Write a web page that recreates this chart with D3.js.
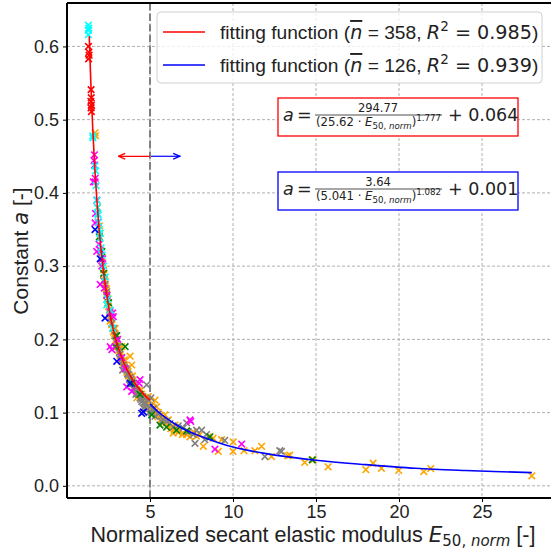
<!DOCTYPE html>
<html><head><meta charset="utf-8">
<script src="https://cdn.jsdelivr.net/npm/d3@7"></script>
<style>html,body{margin:0;padding:0;background:#fff;}svg{display:block;}</style>
</head><body>
<svg id="chart" width="551" height="552"></svg>
<script>
// ---------------- data ----------------
const xTicks = [5, 10, 15, 20, 25];
const yTicks = [0.0, 0.1, 0.2, 0.3, 0.4, 0.5, 0.6];
const threshold = 5;

// fitted curves
const redFitE = [1.34, 1.4, 1.45, 1.5, 1.55, 1.6, 1.7, 1.8, 1.9, 2.0, 2.25, 2.5, 2.75, 3.0, 3.5, 4.0, 4.5, 5.0];
const redFitA = [0.614, 0.573, 0.542, 0.514, 0.489, 0.466, 0.424, 0.390, 0.360, 0.334, 0.283, 0.246, 0.217, 0.195, 0.164, 0.143, 0.128, 0.117];
const blueFitE = [5, 5.5, 6, 6.5, 7, 8, 9, 10, 12, 15, 18, 21, 24, 28];
const blueFitA = [0.112, 0.101, 0.092, 0.0845, 0.078, 0.068, 0.060, 0.053, 0.044, 0.035, 0.029, 0.024, 0.021, 0.018];

// scatter groups: E values and a values
const orangeE = [1.69,1.72,2.1,2.2,2.3,2.25,2.35,2.4,2.45,2.5,2.55,2.6,2.7,2.8,2.85,2.95,3.0,3.1,3.2,3.3,3.4,3.5,3.6,3.8,3.7,3.85,4.0,4.1,4.2,4.3,4.5,4.6,4.8,5.1,5.3,5.4,5.5,5.7,5.9,6.0,6.1,6.3,6.4,6.6,6.8,7.0,7.2,7.41,7.6,8.0,8.21,8.51,8.8,9.11,9.31,10.01,10.0,10.66,11.32,11.72,12.32,13.3,13.42,14.32,14.83,15.73,18.0,18.44,18.94,19.98,21.49,21.91,28.0,3.9,3.3,2.9,4.7,5.2,6.5,7.8,2.15,2.65,3.15,3.45,3.95,4.4,4.9,5.6,
  2.28,2.38,2.48,2.58,2.68,2.78,2.88,2.98,3.08,3.18,3.28,3.38,3.48,3.58,3.68,3.78,3.88,3.98,4.08,4.18,4.28,4.38,4.48,4.58,4.68,4.78,4.88,4.98,5.08,5.18,5.28,5.38,5.48,5.65,5.85,6.05,6.25,6.45,6.7,6.95,1.85,1.95,2.0,2.05];
const orangeA = [0.482,0.478,0.31,0.295,0.28,0.29,0.27,0.262,0.25,0.245,0.24,0.225,0.22,0.21,0.205,0.2,0.19,0.185,0.178,0.17,0.168,0.16,0.155,0.177,0.15,0.145,0.14,0.135,0.12,0.128,0.125,0.118,0.113,0.11,0.117,0.108,0.1,0.092,0.097,0.086,0.09,0.081,0.072,0.08,0.076,0.072,0.07,0.067,0.074,0.07,0.054,0.067,0.065,0.047,0.063,0.060,0.047,0.048,0.048,0.054,0.040,0.041,0.042,0.032,0.0355,0.026,0.022,0.031,0.024,0.021,0.0195,0.0236,0.0137,0.165,0.19,0.215,0.105,0.1,0.083,0.068,0.305,0.232,0.19,0.172,0.15,0.13,0.122,0.096,
  0.275,0.268,0.255,0.236,0.228,0.215,0.208,0.198,0.19,0.183,0.175,0.17,0.165,0.16,0.156,0.15,0.146,0.144,0.139,0.132,0.13,0.126,0.121,0.119,0.117,0.12,0.112,0.108,0.102,0.107,0.101,0.097,0.094,0.09,0.087,0.082,0.078,0.076,0.073,0.07,0.38,0.355,0.345,0.32];

const grayE = [2.6,2.65,2.8,2.9,3.0,3.1,3.2,3.25,3.4,3.5,3.6,3.7,3.8,3.9,4.0,4.1,4.2,4.3,4.4,4.5,4.6,4.7,4.8,4.9,5.0,5.05,4.95,5.2,5.5,5.8,6.2,6.7,7.0,7.21,7.71,7.81,8.11,8.4,9.5,11.92,12.82,12.92,2.2,2.4,2.3,2.05,3.35,3.75,4.15,4.55,
  2.5,2.7,2.95,3.15,3.45,3.65,3.85,4.05,4.25,4.45,4.65,4.85,5.1,5.3,5.7,6.0,6.4,7.3,7.6,8.3];
const grayA = [0.235,0.23,0.215,0.205,0.195,0.19,0.18,0.172,0.165,0.16,0.158,0.152,0.148,0.142,0.14,0.132,0.13,0.125,0.12,0.115,0.106,0.112,0.138,0.117,0.108,0.12,0.1,0.105,0.098,0.09,0.085,0.082,0.079,0.086,0.058,0.076,0.076,0.07,0.062,0.040,0.048,0.047,0.28,0.265,0.275,0.31,0.158,0.138,0.125,0.122,
  0.25,0.222,0.205,0.182,0.162,0.153,0.145,0.135,0.127,0.118,0.114,0.105,0.1,0.095,0.088,0.088,0.08,0.074,0.07,0.063];

const greenE = [2.1,2.5,2.9,3.5,4.4,5.1,5.6,6.0,7.2,8.61,14.77,2.2,3.0,3.9,6.6,1.95,2.4];
const greenA = [0.32,0.25,0.19,0.19,0.125,0.097,0.083,0.08,0.075,0.067,0.0355,0.29,0.205,0.14,0.076,0.34,0.26];

const magentaE = [1.65,1.63,1.66,1.69,1.70,1.59,1.69,1.72,1.79,1.99,1.93,2.0,2.59,2.79,2.75,2.70,2.6,3.05,3.3,3.5,4.4,4.35,3.9,3.6,7.41,7.45,8.91,10.52,2.25,2.4,1.8,1.88,2.1,2.15];
const magentaA = [0.452,0.444,0.438,0.415,0.420,0.415,0.359,0.372,0.32,0.322,0.33,0.275,0.238,0.231,0.236,0.186,0.19,0.2,0.175,0.16,0.145,0.14,0.129,0.135,0.09,0.088,0.05,0.057,0.27,0.26,0.39,0.36,0.3,0.31];

const cyanE = [1.29,1.29,1.29,1.31,1.55,1.56,1.68,1.72,1.75,1.8,1.85,1.9,1.95,2.0,2.05,1.98,2.1,2.6,2.2,1.83,1.88,2.3,2.45,2.75,2.39];
const cyanA = [0.629,0.622,0.616,0.625,0.478,0.475,0.437,0.43,0.41,0.39,0.372,0.36,0.35,0.338,0.325,0.345,0.315,0.24,0.3,0.38,0.37,0.285,0.255,0.215,0.247];

const blueE = [1.69,2.29,3.0,4.5,4.6,2.0,3.8];
const blueA = [0.35,0.229,0.17,0.099,0.101,0.31,0.14];

const redE = [1.29,1.32,1.33,1.30,1.45,1.44,1.47,1.45,1.47,1.46];
const redA = [0.600,0.592,0.588,0.583,0.541,0.525,0.520,0.516,0.511,0.530];

const legendLabels = [
  {n: "358", r2: "0.985", color: "#ff0000"},
  {n: "126", r2: "0.939", color: "#0000ff"}
];

// ---------------- drawing ----------------
const svg = d3.select("#chart");
const L = 67, R = 553.4, T = 3, B = 498;
const x = d3.scaleLinear().domain([0, 29.3]).range([L, R]);
const y = d3.scaleLinear().domain([-0.0166, 0.6593]).range([B, T]);

const sans = "'Liberation Sans', Arial, sans-serif";
const math = "'DejaVu Sans', sans-serif";

// grid
const grid = svg.append("g");
grid.selectAll("line.gx").data(xTicks).join("line")
  .attr("x1", d => x(d)).attr("x2", d => x(d)).attr("y1", T).attr("y2", B)
  .attr("stroke", "#b0b0b0").attr("stroke-width", 1).attr("stroke-dasharray", "3,2");
grid.selectAll("line.gy").data(yTicks).join("line")
  .attr("x1", L).attr("x2", 551).attr("y1", d => y(d)).attr("y2", d => y(d))
  .attr("stroke", "#b0b0b0").attr("stroke-width", 1).attr("stroke-dasharray", "3,2");

// threshold line
svg.append("line").attr("x1", x(threshold)).attr("x2", x(threshold)).attr("y1", T).attr("y2", B)
  .attr("stroke", "#808080").attr("stroke-width", 2).attr("stroke-dasharray", "7.4,3.2");

// scatter
const xPath = "M-3.3,-3.3L3.3,3.3M-3.3,3.3L3.3,-3.3";
function scatter(E, A, color) {
  svg.append("g").selectAll("path").data(E.map((e, i) => [e, A[i]])).join("path")
    .attr("transform", d => `translate(${x(d[0])},${y(d[1])})`)
    .attr("d", xPath).attr("stroke", color).attr("stroke-width", 1.6).attr("fill", "none");
}
scatter(orangeE, orangeA, "#ffa500");
scatter(grayE, grayA, "#808080");
scatter(greenE, greenA, "#008000");
scatter(magentaE, magentaA, "#ff00ff");
scatter(cyanE, cyanA, "#00ffff");
scatter(blueE, blueA, "#0000ff");
scatter(redE, redA, "#ff0000");

// fit lines
const line = d3.line().x(d => x(d[0])).y(d => y(d[1])).curve(d3.curveCatmullRom);
svg.append("path").datum(redFitE.map((e, i) => [e, redFitA[i]])).attr("d", line)
  .attr("fill", "none").attr("stroke", "#ff0000").attr("stroke-width", 1.6);
svg.append("path").datum(blueFitE.map((e, i) => [e, blueFitA[i]])).attr("d", line)
  .attr("fill", "none").attr("stroke", "#0000ff").attr("stroke-width", 1.6);

// arrows
const defs = svg.append("defs");
[["arrRed", "#ff0000"], ["arrBlue", "#0000ff"]].forEach(([id, c]) => {
  defs.append("marker").attr("id", id).attr("viewBox", "0 0 10 10").attr("refX", 9).attr("refY", 5)
    .attr("markerWidth", 7).attr("markerHeight", 7).attr("orient", "auto")
    .append("path").attr("d", "M1,1.5L9,5L1,8.5").attr("fill", "none").attr("stroke", c).attr("stroke-width", 1.6);
});
const arrowY = y(0.450);
svg.append("line").attr("x1", x(threshold)).attr("x2", x(3.1)).attr("y1", arrowY).attr("y2", arrowY)
  .attr("stroke", "#ff0000").attr("stroke-width", 1.2).attr("marker-end", "url(#arrRed)");
svg.append("line").attr("x1", x(threshold) + 1).attr("x2", x(6.8)).attr("y1", arrowY).attr("y2", arrowY)
  .attr("stroke", "#0000ff").attr("stroke-width", 1.2).attr("marker-end", "url(#arrBlue)");

// spines
svg.append("line").attr("x1", L).attr("x2", L).attr("y1", T).attr("y2", B).attr("stroke", "#000").attr("stroke-width", 2);
svg.append("line").attr("x1", L).attr("x2", 551).attr("y1", B).attr("y2", B).attr("stroke", "#000").attr("stroke-width", 2);
svg.append("line").attr("x1", L).attr("x2", 551).attr("y1", T).attr("y2", T).attr("stroke", "#000").attr("stroke-width", 2);

// axes ticks + labels
const xAxis = svg.append("g").attr("transform", `translate(0,${B})`)
  .call(d3.axisBottom(x).tickValues(xTicks).tickSize(4).tickPadding(3).tickFormat(d3.format("d")));
xAxis.select(".domain").remove();
xAxis.selectAll("text").attr("font-family", sans).attr("font-size", 18).attr("fill", "#222");
const yAxis = svg.append("g").attr("transform", `translate(${L},0)`)
  .call(d3.axisLeft(y).tickValues(yTicks).tickSize(4).tickPadding(4).tickFormat(d3.format(".1f")));
yAxis.select(".domain").remove();
yAxis.selectAll("text").attr("font-family", sans).attr("font-size", 18).attr("fill", "#222");

// axis titles
const xt = svg.append("text").attr("x", 313).attr("y", 542).attr("text-anchor", "middle")
  .attr("font-family", sans).attr("font-size", 21.5).attr("fill", "#222");
xt.append("tspan").text("Normalized secant elastic modulus ");
xt.append("tspan").attr("font-family", math).attr("font-style", "italic").text("E");
xt.append("tspan").attr("font-family", math).attr("font-size", 15).attr("dy", 4).text("50,");
xt.append("tspan").attr("font-family", math).attr("font-size", 15).attr("font-style", "italic").text(" norm");
xt.append("tspan").attr("dy", -4).text(" [-]");

const yt = svg.append("text").attr("transform", "translate(28,251) rotate(-90)").attr("text-anchor", "middle")
  .attr("font-family", sans).attr("font-size", 21).attr("fill", "#222");
yt.append("tspan").text("Constant ");
yt.append("tspan").attr("font-family", math).attr("font-style", "italic").text("a");
yt.append("tspan").text(" [-]");

// legend
const lg = svg.append("g");
lg.append("rect").attr("x", 157).attr("y", 12).attr("width", 385).attr("height", 71).attr("rx", 4)
  .attr("fill", "#fff").attr("fill-opacity", 0.8).attr("stroke", "#d0d0d0").attr("stroke-width", 1);
legendLabels.forEach((d, i) => {
  const cy = 32 + i * 33;
  lg.append("line").attr("x1", 163).attr("x2", 205).attr("y1", cy).attr("y2", cy)
    .attr("stroke", d.color).attr("stroke-width", 1.6);
  const t = lg.append("text").attr("x", 220).attr("y", cy + 7).attr("font-family", sans)
    .attr("font-size", 19.2).attr("fill", "#222");
  t.append("tspan").text("fitting function (");
  t.append("tspan").attr("font-family", math).attr("font-style", "italic")
    .style("text-decoration", "overline").text("n");
  t.append("tspan").text(" = " + d.n + ", ");
  t.append("tspan").attr("font-family", math).attr("font-style", "italic").text("R");
  t.append("tspan").attr("font-family", math).attr("font-size", 13.5).attr("dy", -8).text("2");
  t.append("tspan").attr("font-family", math).attr("dy", 8).text(" = " + d.r2);
  t.append("tspan").text(")");
});

// formula boxes
const formulas = [
  {num: "294.77", k: "25.62", p: "1.777", c: "0.064", color: "#ff0000", top: 98},
  {num: "3.64", k: "5.041", p: "1.082", c: "0.001", color: "#0000ff", top: 172}
];
formulas.forEach(f => {
  const g = svg.append("g");
  g.append("rect").attr("x", 278).attr("y", f.top).attr("width", 240).attr("height", 38)
    .attr("fill", "#fff").attr("stroke", f.color).attr("stroke-width", 1.3);
  const mid = f.top + 17;
  g.append("text").attr("x", 283).attr("y", mid + 6).attr("font-family", math).attr("font-size", 17.5)
    .attr("font-style", "italic").attr("fill", "#222").text("a");
  g.append("text").attr("x", 297).attr("y", mid + 6).attr("font-family", math).attr("font-size", 17.5)
    .attr("fill", "#222").text("=");
  g.append("line").attr("x1", 315).attr("x2", 442).attr("y1", mid).attr("y2", mid)
    .attr("stroke", "#222").attr("stroke-width", 0.8);
  g.append("text").attr("x", 378).attr("y", mid - 3).attr("text-anchor", "middle")
    .attr("font-family", math).attr("font-size", 11.5).attr("fill", "#222").text(f.num);
  const den = g.append("text").attr("x", 316).attr("y", mid + 11)
    .attr("font-family", math).attr("font-size", 11.5).attr("fill", "#222")
    .attr("textLength", 125).attr("lengthAdjust", "spacingAndGlyphs");
  den.append("tspan").text("(" + f.k + " · ");
  den.append("tspan").attr("font-style", "italic").text("E");
  den.append("tspan").attr("font-size", 8.5).attr("dy", 3).text("50, ");
  den.append("tspan").attr("font-size", 8.5).attr("font-style", "italic").text("norm");
  den.append("tspan").attr("dy", -3).text(")");
  den.append("tspan").attr("font-size", 8.5).attr("dy", -5.5).text(f.p);
  g.append("text").attr("x", 448).attr("y", mid + 6).attr("font-family", math).attr("font-size", 17.5)
    .attr("fill", "#222").text("+ " + f.c);
});
</script>
</body></html>
